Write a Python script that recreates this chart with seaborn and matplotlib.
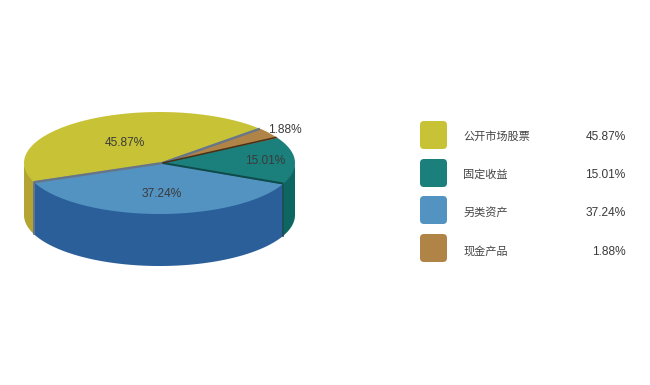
import matplotlib
matplotlib.use('Agg')
import matplotlib.pyplot as plt
from matplotlib.patches import FancyBboxPatch
import numpy as np
import seaborn as sns

# data, legend order
categories = ['公开市场股票', '固定收益', '另类资产', '现金产品']
shares = [45.87, 15.01, 37.24, 1.88]
top_colors = ['#c8c336', '#1b7f7c', '#5393c1', '#b08347']
side_colors = ['#b3a433', '#0e6663', '#2a5f9a', '#8a6433']
edge_colors = ['#66758a', '#0f4a4a', '#66758a', '#4a2f14']
edge_widths = [1.7, 1.4, 1.7, 1.1]

# slices go round the pie in this order, starting at this angle
pie_order = [0, 2, 1, 3]
start_angle = 37.0
# the small slice is drawn a bit wider than its share
extra_span = [0, 0, 0, 5.2]

# pie geometry in pixels
cx, cy = 159.5, 163
rx, ry = 135.5, 51
depth = 52

label_pos = [(125, 143), (265, 161), (162, 194), (285, 130)]

sns.set_theme(style='white')
plt.rcParams['font.family'] = ['Liberation Sans', 'Noto Sans CJK SC']

fig, ax = plt.subplots(figsize=(6.5, 3.85), dpi=100)
fig.subplots_adjust(0, 0, 1, 1)
ax.set_xlim(0, 650)
ax.set_ylim(385, 0)
ax.axis('off')


def arc(t0, t1, y0=cy):
    t = np.radians(np.linspace(t0, t1, max(int(abs(t1 - t0)) * 2, 2)))
    return cx + rx * np.cos(t), y0 - ry * np.sin(t)


# work out each slice's angles from its share
angles = {}
a = start_angle
for i in pie_order:
    angles[i] = (a, a + shares[i] * 3.6)
    a += shares[i] * 3.6

# side walls, only the front half of the pie shows
for i in pie_order:
    for k in (0, 360):
        t0 = max(angles[i][0], 180 + k)
        t1 = min(angles[i][1], 360 + k)
        if t1 <= t0:
            continue
        x, y = arc(t0, t1, cy - 1.5)
        xb, yb = arc(t1, t0, cy + depth)
        ax.fill(np.r_[x, xb], np.r_[y, yb], color=side_colors[i], lw=0, zorder=2)
        for t in (t0, t1):
            if t % 180 != 0:
                xe, ye = arc(t, t + 0.01)
                ax.plot([xe[0], xe[0]], [ye[0], ye[0] + depth],
                        color=edge_colors[i], lw=1.2, zorder=3)

# top faces
for i in pie_order:
    t0, t1 = angles[i]
    x, y = arc(t0 - 1, t1 + extra_span[i])
    ax.fill(np.r_[cx, x], np.r_[cy, y], color=top_colors[i], lw=0, zorder=4)

# dark lines between slices
for i in pie_order:
    t0 = angles[i][0] + (extra_span[3] if i == 0 else 0)
    x, y = arc(t0, t0 + 1)
    ax.plot([cx + 3, x[0]], [cy, y[0]], color=edge_colors[i], lw=edge_widths[i], zorder=5,
            solid_capstyle='butt')

for i, (px, py) in enumerate(label_pos):
    ax.text(px, py, f'{shares[i]:.2f}%', ha='center', va='center', fontsize=8.6,
            color='#3a3a3a', zorder=6)

# legend
swatch_y = [135, 173, 210, 248]
value_y = [137, 175, 213, 252]
name_y = [137, 175, 212, 251]
for i, ly in enumerate(swatch_y):
    ax.add_patch(FancyBboxPatch((423, ly - 11), 21, 22, boxstyle='round,pad=3,rounding_size=4',
                                fc=top_colors[i], ec='none'))
    ax.text(463, name_y[i], categories[i], ha='left', va='center', fontsize=8.05,
            color='#444444', family=['Noto Sans CJK SC', 'DejaVu Sans'])
    ax.text(625.5, value_y[i], f'{shares[i]:.2f}%', ha='right', va='center', fontsize=8.6,
            color='#3a3a3a')

fig.savefig('out.png', dpi=100, facecolor='white')
